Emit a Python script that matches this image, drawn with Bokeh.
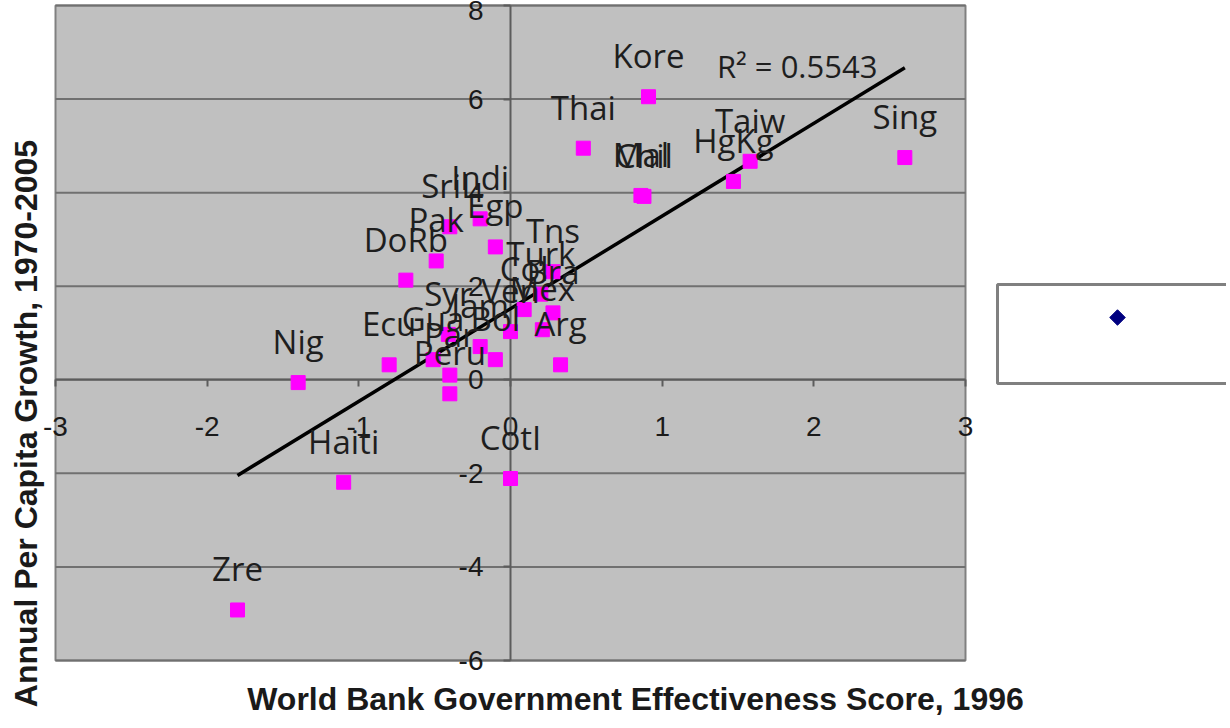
import numpy as np
from bokeh.plotting import figure
from bokeh.models import Range1d, Label, LinearAxis, FixedTicker
from bokeh.core.properties import value
from bokeh.embed import file_html
from bokeh.resources import INLINE

# ---------------- data ----------------
countries = ["Kore", "Thai", "Mal", "Chil", "Taiw", "HgKg", "Sing",
             "Indi", "SriL", "Pak", "Egp", "DoRb", "Tns", "Turk",
             "Col", "Bra", "Mex", "Ven", "Syr", "Jam", "Bol", "Arg", "Ecu", "Gua",
             "Par", "Peru", "Nig", "Haiti", "CotI", "Zre"]
gov_eff = [0.91, 0.48, 0.86, 0.88, 1.58, 1.47, 2.60,
           -0.20, -0.40, -0.49, -0.10, -0.69, 0.28, 0.20,
           0.09, 0.28, 0.21, 0.00, -0.41, -0.20, -0.10, 0.33, -0.80, -0.51,
           -0.40, -0.40, -1.40, -1.10, 0.00, -1.80]
growth = [6.05, 4.95, 3.94, 3.92, 4.67, 4.24, 4.75,
          3.44, 3.27, 2.54, 2.84, 2.13, 2.31, 1.83,
          1.50, 1.43, 1.07, 1.03, 0.97, 0.71, 0.43, 0.32, 0.32, 0.43,
          0.10, -0.30, -0.06, -2.19, -2.11, -4.92]

trend_slope = 1.98
trend_intercept = 1.52
r2_text = "R\u00b2 = 0.5543"
r2_pos = (1.89, 6.71)

x_ticks = [-3, -2, -1, 0, 1, 2, 3]
y_ticks = [-6, -4, -2, 0, 2, 4, 6, 8]
x_title = "World Bank Government Effectiveness Score, 1996"
y_title = "Annual Per Capita Growth, 1970-2005"

# ---------------- layout ----------------
X_MIN, X_MAX = -3, 3
Y_MIN, Y_MAX = -6, 8
W, H = 1226, 724
PLOT_L, PLOT_R = 55, 965      # canvas px of x = -3 / 3
PLOT_T, PLOT_B = 5, 660       # canvas px of y = 8 / -6
px_x = (PLOT_R - PLOT_L) / (X_MAX - X_MIN)
px_y = (PLOT_B - PLOT_T) / (Y_MAX - Y_MIN)
x_range = Range1d(X_MIN - PLOT_L / px_x, X_MAX + (W - PLOT_R) / px_x)
y_range = Range1d(Y_MIN - (H - PLOT_B) / px_y, Y_MAX + PLOT_T / px_y)


def cx(px):  # canvas px -> data x (for decorations only)
    return x_range.start + px / px_x


def cy(py):  # canvas px (from top) -> data y
    return y_range.end - py / px_y


p = figure(width=W, height=H, x_range=x_range, y_range=y_range,
           output_backend="svg", toolbar_location=None, x_axis_type=None, y_axis_type=None,
           min_border=0, min_border_left=0, min_border_right=0, min_border_top=0,
           min_border_bottom=0)
p.outline_line_color = None
p.background_fill_color = "white"
p.border_fill_color = "white"

bg = p.quad(left=[X_MIN], right=[X_MAX], bottom=[Y_MIN], top=[Y_MAX],
            fill_color="#C0C0C0", line_color="#808080", line_width=2)
bg.level = "image"
n = len(y_ticks)
gl = p.segment(x0=[X_MIN] * n, x1=[X_MAX] * n, y0=y_ticks, y1=y_ticks,
               line_color="#707070", line_width=2)
gl.level = "image"

tick_font = "Liberation Sans"
xaxis = LinearAxis(fixed_location=0, bounds=(X_MIN, X_MAX), ticker=FixedTicker(ticks=x_ticks),
                   major_label_overrides={t: str(t) for t in x_ticks})
yaxis = LinearAxis(fixed_location=0, bounds=(Y_MIN, Y_MAX), ticker=FixedTicker(ticks=y_ticks),
                   major_label_overrides={t: str(t) for t in y_ticks})
for ax in (xaxis, yaxis):
    ax.axis_line_color = "#5c5c5c"
    ax.axis_line_width = 2
    ax.major_tick_line_color = "#5c5c5c"
    ax.major_tick_line_width = 2
    ax.major_tick_out = 7
    ax.major_tick_in = 0
    ax.minor_tick_line_color = None
    ax.major_label_text_font = tick_font
    ax.major_label_text_font_size = "28px"
    ax.major_label_text_color = "#1a1a1a"
    ax.level = "underlay"
xaxis.major_label_standoff = 30
yaxis.major_label_standoff = 20
p.add_layout(xaxis, "below")
p.add_layout(yaxis, "left")

xs = np.array([min(gov_eff), max(gov_eff)])
p.line(xs, trend_slope * xs + trend_intercept, line_color="black", line_width=3.5)

p.scatter(gov_eff, growth, marker="square", size=14, fill_color="#FF00FF", line_color="#FF00FF")

p.text(x=gov_eff, y=growth, text=countries, y_offset=-41, text_align="center",
       text_baseline="middle", text_font=value("Open Sans"), text_font_size="33px",
       text_color="#1e1e1e")

p.add_layout(Label(x=r2_pos[0], y=r2_pos[1], text=r2_text, text_align="center",
                   text_baseline="middle", text_font="Open Sans", text_font_size="31px",
                   text_color="#1e1e1e"))

# axis titles (frame covers whole canvas; screen units = canvas px from bottom-left)
p.add_layout(Label(x=635, y=H - 698, x_units="screen", y_units="screen", text=x_title,
                   text_align="center", text_baseline="middle", text_font=tick_font,
                   text_font_style="bold", text_font_size="32px", text_color="#1a1a1a"))
p.add_layout(Label(x=25, y=H - 423, x_units="screen", y_units="screen", text=y_title,
                   angle=np.pi / 2, text_align="center", text_baseline="middle",
                   text_font=tick_font, text_font_style="bold", text_font_size="32px",
                   text_color="#1a1a1a"))

# legend box with the series marker (navy diamond)
p.quad(left=[cx(997)], right=[cx(W + 20)], top=[cy(284)], bottom=[cy(383)],
       fill_color="white", line_color="#808080", line_width=3)
p.scatter([cx(1117)], [cy(317)], marker="square", angle=np.pi / 4, size=11,
          fill_color="#000080", line_color="#000080")

open("out.html", "w").write(file_html(p, INLINE))
